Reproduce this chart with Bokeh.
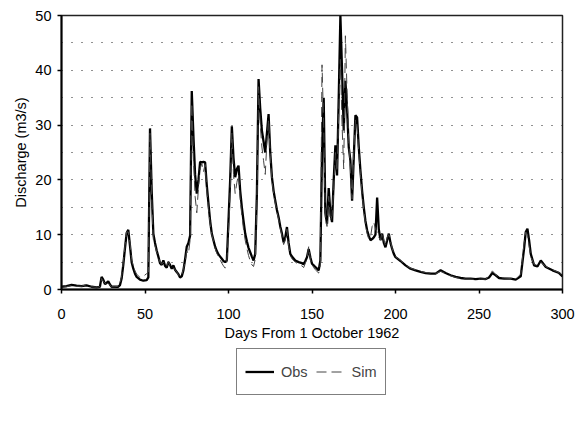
from bokeh.plotting import figure
from bokeh.layouts import column
from bokeh.models import Range1d, FixedTicker, Legend, LegendItem, ColumnDataSource
from bokeh.embed import file_html
from bokeh.resources import INLINE

days = [0, 3, 6, 9, 12, 15, 18, 21, 23, 24, 25, 26, 27, 28, 29, 30, 32, 34, 35, 36,
        37, 38, 39, 40, 41, 42, 43, 44, 45, 47, 49, 51, 52, 53, 54, 55, 56, 57, 58, 59,
        60, 61, 62, 63, 64, 65, 66, 67, 68, 69, 70, 71, 72, 73, 74, 75, 76, 77, 78, 79,
        80, 81, 82, 83, 84, 85, 86, 87, 88, 89, 90, 91, 92, 93, 94, 95, 96, 97, 98, 99,
        100, 101, 102, 103, 104, 105, 106, 107, 108, 109, 110, 111, 112, 113, 114, 115, 116, 117, 118, 119,
        120, 121, 122, 123, 124, 125, 126, 127, 128, 129, 130, 131, 132, 133, 134, 135, 136, 137, 138, 140,
        142, 144, 145, 146, 147, 148, 149, 150, 151, 152, 153, 154, 155, 156, 157, 158, 159, 160, 161, 162,
        163, 164, 165, 166, 167, 168, 169, 170, 171, 172, 173, 174, 175, 176, 177, 178, 179, 180, 181, 182,
        183, 184, 185, 186, 187, 188, 189, 190, 191, 192, 193, 194, 195, 196, 197, 198, 199, 200, 203, 206,
        209, 212, 215, 218, 221, 224, 227, 230, 233, 236, 239, 242, 245, 248, 251, 254, 256, 258, 260, 262,
        265, 269, 272, 275, 277, 278, 279, 280, 281, 283, 285, 287, 290, 294, 298, 300]

obs = [0.5, 0.6, 0.85, 0.7, 0.6, 0.75, 0.5, 0.4, 0.5, 2.3, 1.8, 1.0, 1.2, 1.5, 0.9, 0.5, 0.5, 0.5, 0.8, 2.0,
       4.5, 7.5, 10.3, 10.9, 8.0, 5.0, 3.8, 2.9, 2.3, 1.8, 1.6, 1.7, 2.2, 29.4, 18.0, 10.2, 8.5, 7.1, 6.0, 4.8,
       4.5, 5.3, 4.3, 4.0, 5.0, 4.5, 3.8, 4.4, 3.6, 3.2, 2.8, 2.2, 2.4, 3.5, 5.5, 7.8, 8.5, 9.8, 36.2, 28.0,
       21.0, 17.5, 20.0, 23.3, 23.2, 23.3, 23.2, 19.0, 15.7, 12.5, 10.2, 9.0, 7.8, 7.0, 6.4, 6.0, 5.6, 5.2, 5.0, 5.3,
       12.6, 20.0, 29.8, 24.0, 20.5, 22.0, 22.6, 18.0, 15.0, 12.5, 10.2, 8.8, 7.6, 6.8, 6.0, 5.3, 6.5, 17.5, 38.4, 33.0,
       29.0, 27.0, 25.0, 28.5, 32.0, 25.0, 20.5, 18.0, 16.2, 14.5, 13.2, 11.5, 10.2, 8.6, 9.5, 11.4, 8.5, 6.5, 6.0, 5.3,
       5.0, 4.8, 4.6, 5.2, 5.9, 7.4, 5.9, 4.7, 4.4, 4.1, 3.8, 3.5, 5.3, 25.0, 35.0, 14.0, 12.0, 18.5, 14.0, 12.3,
       20.0, 26.3, 20.8, 35.0, 50.0, 40.0, 29.0, 38.1, 33.0, 26.0, 23.5, 16.2, 24.0, 31.8, 31.4, 26.0, 21.7, 18.0, 15.0, 12.5,
       10.8, 9.8, 9.0, 9.2, 9.5, 10.0, 16.8, 11.0, 9.0, 10.2, 8.5, 7.7, 9.0, 10.2, 8.5, 7.4, 6.5, 5.9, 5.2, 4.4,
       3.8, 3.5, 3.2, 3.0, 2.9, 2.9, 3.5, 3.0, 2.6, 2.3, 2.1, 2.0, 2.0, 1.9, 2.0, 1.9, 2.2, 3.0, 2.6, 2.1,
       2.0, 2.0, 1.8, 2.4, 7.5, 10.5, 11.1, 9.0, 6.5, 4.4, 4.2, 5.3, 4.1, 3.5, 3.0, 2.4]

sim = [0.4, 0.5, 0.7, 0.6, 0.6, 0.9, 0.5, 0.4, 0.5, 2.0, 1.5, 1.2, 1.0, 1.3, 0.8, 0.5, 0.5, 0.6, 1.0, 2.5,
       5.0, 8.0, 10.5, 10.5, 8.5, 5.5, 4.2, 3.4, 2.8, 2.2, 2.4, 2.9, 3.2, 28.5, 17.0, 9.0, 8.0, 6.8, 5.8, 5.0,
       4.6, 5.0, 4.5, 4.2, 5.2, 4.2, 4.0, 4.0, 3.6, 3.2, 2.7, 2.3, 2.6, 3.8, 5.0, 7.0, 6.5, 9.0, 34.0, 24.0,
       17.0, 14.0, 18.5, 22.0, 23.0, 21.5, 22.8, 18.0, 14.8, 12.0, 10.0, 8.8, 7.5, 6.6, 6.0, 5.4, 4.8, 4.3, 3.9, 5.0,
       10.5, 18.0, 28.5, 21.0, 17.5, 19.5, 21.0, 16.5, 13.5, 11.0, 9.0, 7.5, 6.2, 5.2, 4.5, 4.2, 5.5, 16.0, 37.0, 30.0,
       26.0, 23.5, 21.0, 27.0, 31.0, 24.5, 20.0, 17.5, 15.8, 14.2, 12.8, 11.2, 9.8, 8.2, 9.0, 11.0, 8.0, 6.2, 5.6, 5.0,
       4.6, 4.3, 4.0, 4.8, 5.6, 7.8, 5.5, 4.4, 4.0, 3.6, 3.3, 3.0, 4.5, 41.0, 30.0, 13.0, 11.5, 17.0, 12.5, 13.5,
       18.5, 25.0, 21.5, 32.0, 42.0, 30.0, 22.0, 46.3, 36.0, 27.0, 22.0, 16.5, 25.0, 31.0, 30.0, 25.0, 21.0, 17.5, 14.5, 12.0,
       10.2, 9.2, 9.5, 11.5, 12.3, 11.0, 10.5, 9.5, 9.0, 10.5, 9.0, 8.0, 9.5, 10.0, 8.8, 7.5, 6.6, 6.0, 5.3, 4.5,
       3.9, 3.6, 3.3, 3.1, 3.0, 2.9, 3.3, 2.9, 2.5, 2.2, 2.0, 1.9, 1.9, 1.8, 1.9, 1.9, 2.4, 3.4, 2.7, 2.2,
       2.1, 2.0, 1.9, 2.8, 8.5, 10.5, 10.0, 8.0, 6.0, 4.6, 4.4, 5.0, 4.2, 3.6, 3.1, 2.5]

x_ticks = [0, 50, 100, 150, 200, 250, 300]
y_ticks = [0, 10, 20, 30, 40, 50]
grid_levels = [5, 10, 15, 20, 25, 30, 35, 40, 45]
series_labels = ["Obs", "Sim"]

FONT = "Liberation Sans"
FS = "14.5px"
OBS_STYLE = dict(line_color="black", line_width=2.3)
SIM_STYLE = dict(line_color="#444444", line_width=1, line_dash="10 5")

p = figure(width=579, height=347, output_backend="svg", toolbar_location=None,
           x_range=Range1d(0, 300), y_range=Range1d(0, 50),
           frame_width=501, frame_height=274,
           min_border_left=61, min_border_right=17, min_border_top=15, min_border_bottom=58)
p.background_fill_color = "white"
p.border_fill_color = "white"
p.outline_line_color = "#222222"
p.outline_line_width = 1.5

src = ColumnDataSource(dict(day=days, obs=obs, sim=sim))
p.line("day", "obs", source=src, **OBS_STYLE)
p.line("day", "sim", source=src, **SIM_STYLE)

p.xgrid.visible = False
p.ygrid.ticker = FixedTicker(ticks=grid_levels)
p.ygrid.grid_line_color = "#222222"
p.ygrid.grid_line_dash = "1 9"
p.ygrid.grid_line_width = 1.2

for ax in (p.xaxis[0], p.yaxis[0]):
    ax.axis_line_color = "black"
    ax.axis_line_width = 2
    ax.major_tick_line_color = "black"
    ax.major_tick_line_width = 1.5
    ax.major_tick_out = 4
    ax.major_tick_in = 0
    ax.minor_tick_line_color = None
    ax.major_label_text_font = FONT
    ax.major_label_text_font_size = FS
    ax.major_label_text_color = "black"
    ax.axis_label_text_font = FONT
    ax.axis_label_text_font_size = FS
    ax.axis_label_text_font_style = "normal"
    ax.axis_label_text_color = "black"

p.xaxis.ticker = FixedTicker(ticks=x_ticks)
p.yaxis.ticker = FixedTicker(ticks=y_ticks)
p.xaxis.axis_label = "Days From 1 October 1962"
p.yaxis.axis_label = "Discharge (m3/s)"
p.xaxis.major_label_standoff = 15
p.xaxis.axis_label_standoff = 3
p.yaxis.major_label_standoff = 6
p.yaxis.axis_label_standoff = 3

# legend strip below the chart: same series, ranges chosen so nothing is drawn in the strip
q = figure(width=579, height=74, output_backend="svg", toolbar_location=None,
           x_range=Range1d(-20, -10), y_range=Range1d(-20, -10),
           frame_width=579, frame_height=74,
           min_border_left=0, min_border_right=0, min_border_top=0, min_border_bottom=0)
q.axis.visible = False
q.grid.visible = False
q.outline_line_color = None
q.background_fill_color = "white"
q.border_fill_color = "white"
l_obs = q.line("day", "obs", source=src, **OBS_STYLE)
l_sim = q.line("day", "sim", source=src, **SIM_STYLE)

legend = Legend(items=[LegendItem(label=series_labels[0], renderers=[l_obs]),
                       LegendItem(label=series_labels[1], renderers=[l_sim])],
                orientation="horizontal", location=(236, 26),
                border_line_color="black", border_line_width=1.5,
                background_fill_color="white", background_fill_alpha=1,
                label_text_font=FONT, label_text_font_size=FS,
                glyph_width=29, glyph_height=29, label_height=29, label_width=0,
                label_standoff=7, spacing=8, padding=8, margin=0)
q.add_layout(legend, "center")

layout = column(p, q, spacing=0)
open("out.html", "w").write(file_html(layout, INLINE))
